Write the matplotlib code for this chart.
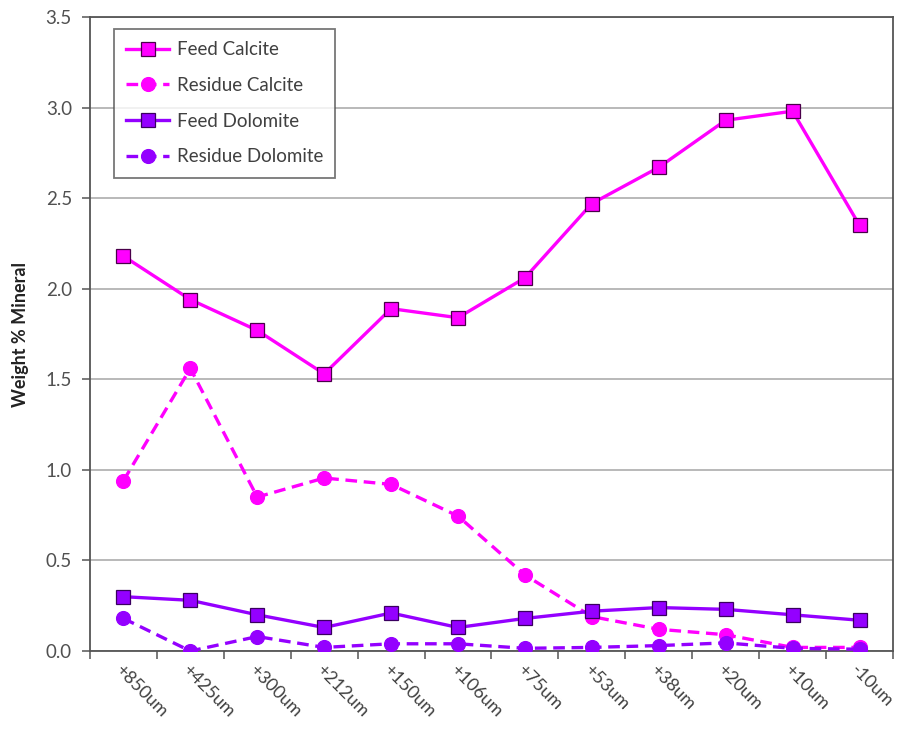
import matplotlib
matplotlib.use("Agg")
import matplotlib.pyplot as plt
from matplotlib.ticker import MultipleLocator, FixedLocator

plt.rcParams['font.family'] = ['Lato', 'DejaVu Sans']

sizes = ["+850um", "+425um", "+300um", "+212um", "+150um", "+106um",
         "+75um", "+53um", "+38um", "+20um", "+10um", "-10um"]

feed_calcite = [2.18, 1.94, 1.77, 1.53, 1.89, 1.84, 2.06, 2.47, 2.67, 2.93, 2.98, 2.35]
residue_calcite = [0.94, 1.56, 0.85, 0.955, 0.92, 0.745, 0.42, 0.19, 0.12, 0.09, 0.02, 0.02]
feed_dolomite = [0.30, 0.28, 0.20, 0.13, 0.21, 0.13, 0.18, 0.22, 0.24, 0.23, 0.20, 0.17]
residue_dolomite = [0.18, 0.0, 0.08, 0.02, 0.04, 0.04, 0.015, 0.02, 0.03, 0.045, 0.015, 0.01]

calcite_color = "#FF00FF"
dolomite_color = "#9400FF"

fig = plt.figure(figsize=(9.05, 7.42), dpi=100)
ax = fig.add_axes([0.0994, 0.1226, 0.8873, 0.8545])

x = list(range(len(sizes)))
ax.plot(x, feed_calcite, color=calcite_color, lw=2.4, marker="s", ms=10,
        mfc=calcite_color, mec="#4a004a", mew=0.9, label="Feed Calcite", zorder=4)
ax.plot(x, residue_calcite, color=calcite_color, lw=2.4, ls=(0, (3.5, 2)), marker="o", ms=10,
        mfc=calcite_color, mec=calcite_color, mew=0.9, label="Residue Calcite", zorder=3)
ax.plot(x, feed_dolomite, color=dolomite_color, lw=2.4, marker="s", ms=10,
        mfc=dolomite_color, mec="#3a0060", mew=0.9, label="Feed Dolomite", zorder=4)
ax.plot(x, residue_dolomite, color=dolomite_color, lw=2.4, ls=(0, (3.5, 2)), marker="o", ms=10,
        mfc=dolomite_color, mec=dolomite_color, mew=0.9, label="Residue Dolomite", zorder=3)

ax.set_xlim(-0.5, len(sizes) - 0.5)
ax.set_ylim(0, 3.5)
ax.yaxis.set_major_locator(MultipleLocator(0.5))
ax.yaxis.set_major_formatter(matplotlib.ticker.FormatStrFormatter("%.1f"))
ax.grid(axis="y", color="#a6a6a6", lw=1.1)
ax.set_axisbelow(True)

ax.set_xticks(x)
ax.set_xticklabels(sizes, rotation=-45, ha="left", va="top", rotation_mode="anchor",
                   fontsize=13, color="#404040")
ax.xaxis.set_minor_locator(FixedLocator([i - 0.5 for i in range(len(sizes) + 1)]))
ax.tick_params(axis="x", which="major", length=0, pad=8)
ax.tick_params(axis="x", which="minor", length=6, width=1.1, color="#555555", direction="out")
ax.tick_params(axis="y", length=6, width=1.1, color="#555555", labelsize=13.5,
               labelcolor="#505050", pad=7)

for side in ["left", "bottom", "top", "right"]:
    ax.spines[side].set_color("#555555")
    ax.spines[side].set_linewidth(1.3)

ax.set_ylabel("Weight % Mineral", fontsize=13, fontweight="bold", color="#222222", labelpad=12)

leg = ax.legend(loc="upper left", bbox_to_anchor=(0.030, 0.981), borderaxespad=0,
                fontsize=13.5, frameon=True, fancybox=False, edgecolor="#555555",
                handlelength=2.3, labelspacing=1.0, borderpad=0.65, handletextpad=0.4)
leg.get_frame().set_linewidth(1.3)
for t in leg.get_texts():
    t.set_color("#404040")

fig.savefig("out.png", dpi=100)
